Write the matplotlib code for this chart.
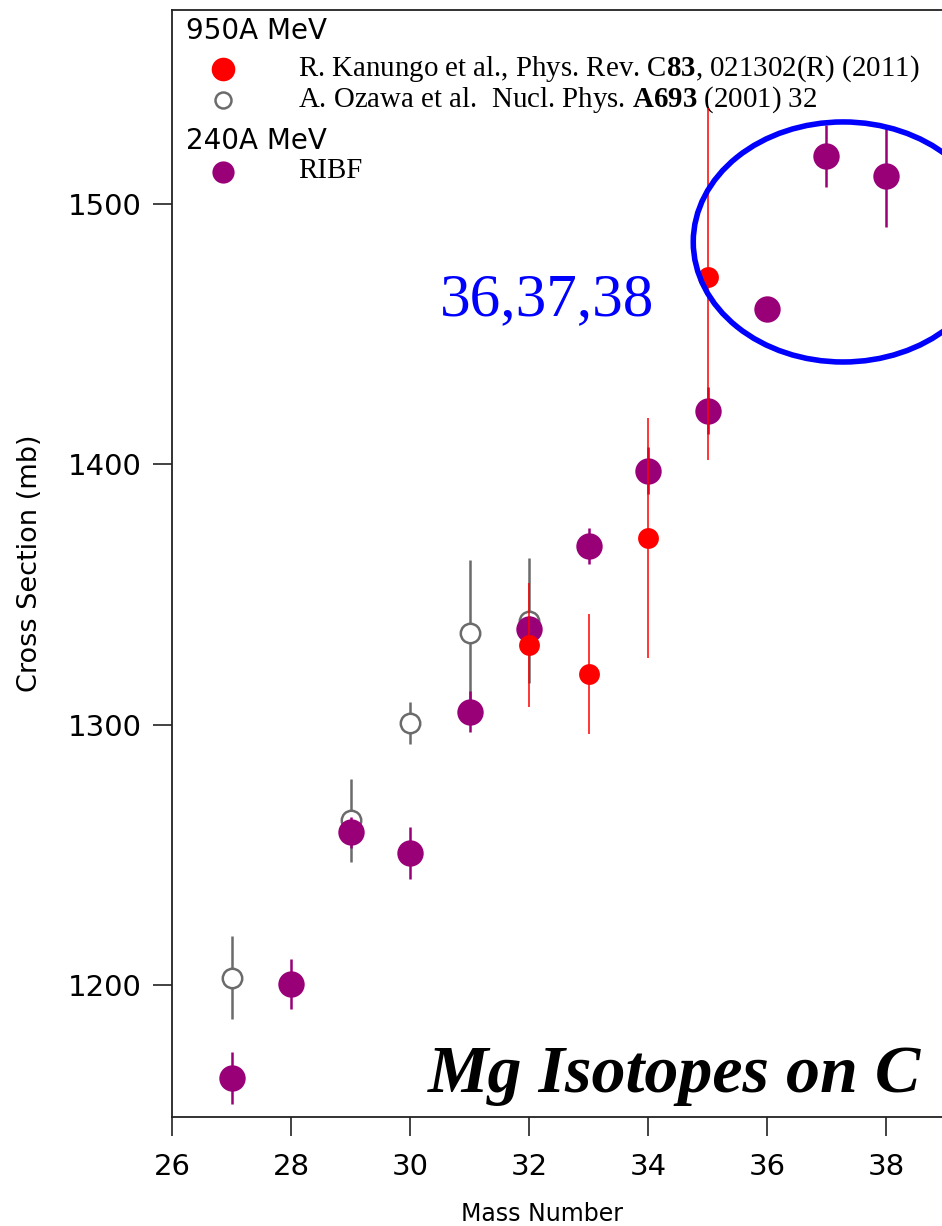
import matplotlib
matplotlib.use("Agg")
import matplotlib.pyplot as plt
from matplotlib.patches import Ellipse

plt.rcParams['font.family'] = ['DejaVu Sans']
plt.rcParams['mathtext.fontset'] = 'custom'
plt.rcParams['mathtext.rm'] = 'Liberation Serif'
plt.rcParams['mathtext.bf'] = 'Liberation Serif:bold'
plt.rcParams['mathtext.it'] = 'Liberation Serif:italic'

# ---------------- data ----------------
ribf_mass = [27, 28, 29, 30, 31, 32, 33, 34, 35, 36, 37, 38]
ribf_sigma = [1164.2, 1200.3, 1258.6, 1250.6, 1305.0, 1336.6, 1368.7, 1397.6, 1420.6, 1459.7, 1518.4, 1510.9]
ribf_err = [10, 9.5, 6, 10, 8, 5, 7, 9, 9, 4, 12, 19.6]

ozawa_mass = [27, 29, 30, 31, 32]
ozawa_sigma = [1202.8, 1263.3, 1300.7, 1335.1, 1339.9]
ozawa_err = [16, 16, 8, 28, 24]

kanungo_mass = [32, 33, 34, 35]
kanungo_sigma = [1330.6, 1319.4, 1371.6, 1471.8]
kanungo_err_lo = [24, 23, 46, 70]
kanungo_err_hi = [24, 23, 46, 65]

x_ticks = [26, 28, 30, 32, 34, 36, 38]
y_ticks = [1200, 1300, 1400, 1500]

# highlight annotation (ellipse around 36,37,38)
ell_center = (37.28, 1485.4)
ell_width = 5.04
ell_height = 92.2

PURPLE = '#990078'
RED = '#ff0000'
GRAY = '#6b6b6b'

fig = plt.figure(figsize=(9.42, 12.26), dpi=100)
ax = fig.add_axes([172.3 / 942, 109 / 1226, (942 - 172.3) / 942, 1107 / 1226])

ax.set_xlim(26, 26 + (942 - 172.3) / 59.47)
ax.set_ylim(1149.3, 1574.5)

ax.errorbar(ozawa_mass, ozawa_sigma, yerr=ozawa_err, fmt='o', ms=14,
            mfc='white', mec=GRAY, mew=1.8, ecolor=GRAY, elinewidth=1.8,
            capsize=0, zorder=2)
ax.errorbar(ribf_mass, ribf_sigma, yerr=ribf_err, fmt='o', ms=19,
            mfc=PURPLE, mec=PURPLE, mew=0, ecolor=PURPLE, elinewidth=1.8,
            capsize=0, zorder=3)
ax.errorbar(kanungo_mass, kanungo_sigma, yerr=[kanungo_err_lo, kanungo_err_hi],
            fmt='o', ms=15, mfc=RED, mec=RED, mew=0, ecolor=RED,
            elinewidth=1.1, capsize=0, zorder=4)

ax.add_patch(Ellipse(ell_center, ell_width, ell_height, fill=False,
                     edgecolor='#0000ff', lw=4.0, zorder=5, clip_on=False))

# spines and ticks
for s in ['left', 'bottom', 'top']:
    ax.spines[s].set_linewidth(1.3)
    ax.spines[s].set_color('#222222')
ax.spines['right'].set_visible(False)
ax.set_xticks(x_ticks)
ax.set_yticks(y_ticks)
ax.tick_params(axis='both', direction='out', length=14, width=1.2,
               color='#222222', labelsize=21, top=False, right=False)
ax.tick_params(axis='x', pad=12)
ax.tick_params(axis='y', pad=8)

ax.set_xlabel('Mass Number', fontsize=17)
ax.xaxis.set_label_coords((541.6 - 172.3) / 769.7, (1117 - 1214) / 1107)
ax.xaxis.label.set_verticalalignment('center')
ax.set_ylabel('Cross Section (mb)', fontsize=19.5)
ax.yaxis.set_label_coords((30 - 172.3) / 769.7, 0.5)
ax.yaxis.label.set_verticalalignment('center')

# legend (hand placed)
def axx(px):
    return (px - 172.3) / 769.7

def axy(py):
    return (1117 - py) / 1107

tr = ax.transAxes
ax.text(axx(186), axy(31), '950A MeV', fontsize=20, ha='left', va='center', transform=tr)
ax.plot([axx(223)], [axy(69)], 'o', ms=17, mfc=RED, mec=RED, mew=0, transform=tr, clip_on=False)
ax.text(axx(298.5), axy(69),
        r'R. Kanungo et al., Phys. Rev. C$\mathbf{83}$, 021302(R) (2011)',
        fontsize=20.8, family='Liberation Serif', ha='left', va='center', transform=tr)
ax.plot([axx(223)], [axy(100)], 'o', ms=11.5, mfc='white', mec=GRAY, mew=1.8, transform=tr, clip_on=False)
ax.text(axx(298.5), axy(99.5),
        r'A. Ozawa et al.  Nucl. Phys. $\mathbf{A693}$ (2001) 32',
        fontsize=20.8, family='Liberation Serif', ha='left', va='center', transform=tr)
ax.text(axx(186), axy(141), '240A MeV', fontsize=20, ha='left', va='center', transform=tr)
ax.plot([axx(223)], [axy(172)], 'o', ms=16, mfc=PURPLE, mec=PURPLE, mew=0, transform=tr, clip_on=False)
ax.text(axx(298.5), axy(171), 'RIBF', fontsize=20.8, family='Liberation Serif',
        ha='left', va='center', transform=tr)

ax.text(axx(440), axy(315), '36,37,38', fontsize=44, color='#0000ff',
        family='Liberation Serif', ha='left', va='baseline', transform=tr)
ax.text(axx(428), axy(1091.7), 'Mg Isotopes on C', fontsize=49,
        family='Liberation Serif', style='italic', weight='bold',
        ha='left', va='baseline', transform=tr)

fig.savefig('out.png', dpi=100)
